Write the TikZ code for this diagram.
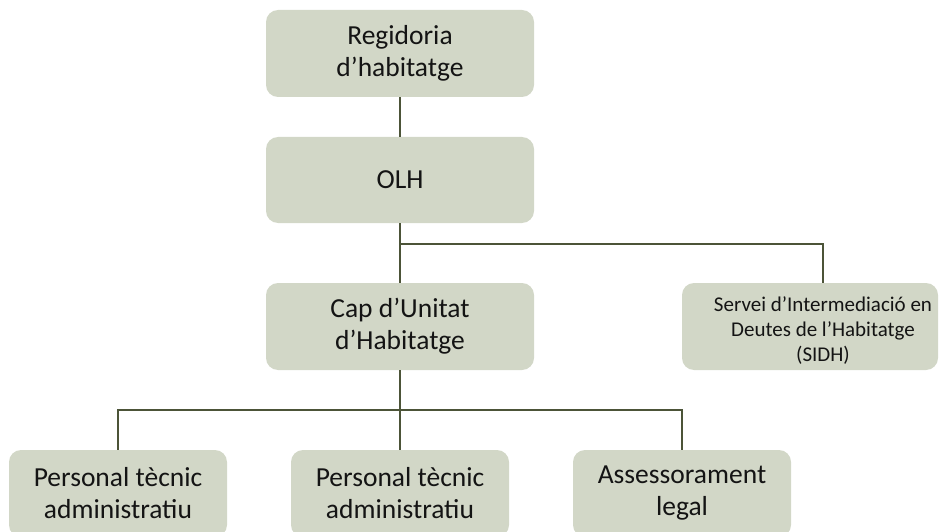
\documentclass[tikz,border=0pt]{standalone}
\usepackage{fontspec}
\setmainfont{Carlito}
\definecolor{boxfill}{RGB}{210,215,199}
\definecolor{linec}{RGB}{76,84,56}
\definecolor{txt}{RGB}{20,20,20}
\tikzset{
  orgbox/.style={draw=none, fill=boxfill, rounded corners=12pt, minimum height=87pt,
    text=txt, align=center, inner sep=0pt,
    font=\fontsize{27.5pt}{32pt}\selectfont},
  conn/.style={draw=linec, line width=2.2pt}
}
\begin{document}
\begin{tikzpicture}[x=1pt,y=-1pt]
\useasboundingbox (0,0) rectangle (940,532);
\node[orgbox, minimum width=268pt] (reg) at (400,53.5) {Regidoria\\d’habitatge};
\node[orgbox, minimum width=268pt, minimum height=86pt] (olh) at (400,180) {OLH};
\node[orgbox, minimum width=268pt] (cap) at (400,326.5) {Cap d’Unitat\\d’Habitatge};
\node[orgbox, minimum width=256pt] (sidh) at (810,326.5) {};
\node[text=txt, align=center, inner sep=0pt, font=\fontsize{21pt}{25pt}\selectfont] (sidht) at (823,331) {Servei d’Intermediació en\\Deutes de l’Habitatge\\(SIDH)};
\node[orgbox, minimum width=218pt] (p1) at (118,493.5) {Personal tècnic\\administratiu};
\node[orgbox, minimum width=218pt] (p2) at (400,493.5) {Personal tècnic\\administratiu};
\node[orgbox, minimum width=218pt] (p3) at (682,493.5) {Assessorament\\legal};
\coordinate (j1) at (400,244);
\coordinate (j2) at (400,410);
\coordinate (st) at (823,283);
\draw[conn] (reg.south) -- (olh.north);
\draw[conn] (olh.south) -- (cap.north);
\draw[conn] (j1) -| (st);
\draw[conn] (cap.south) -- (p2.north);
\draw[conn] (p1.north) |- (j2) -| (p3.north);
\end{tikzpicture}
\end{document}
